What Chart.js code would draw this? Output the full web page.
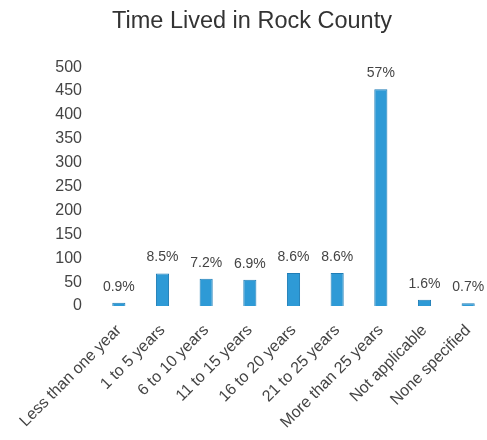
<!DOCTYPE html>
<html>
<head>
<meta charset="utf-8">
<script src="https://cdn.jsdelivr.net/npm/chart.js@4"></script>
<style>
  html, body { margin: 0; padding: 0; background: #fff; overflow: hidden; }
  #wrap { width: 490px; height: 440px; }
</style>
</head>
<body>
<div id="wrap"><canvas id="myChart"></canvas></div>
<script>
var categories = ["Less than one year", "1 to 5 years", "6 to 10 years", "11 to 15 years",
  "16 to 20 years", "21 to 25 years", "More than 25 years", "Not applicable", "None specified"];
var counts = [7, 68, 57, 55, 69, 69, 454, 13, 6];
var percents = ["0.9%", "8.5%", "7.2%", "6.9%", "8.6%", "8.6%", "57%", "1.6%", "0.7%"];

var font = '"Liberation Sans", Arial, sans-serif';

// percent text over each bar
var barLabels = {
  id: 'barLabels',
  afterDatasetsDraw: function(chart) {
    var c = chart.ctx;
    var meta = chart.getDatasetMeta(0);
    c.save();
    c.font = '14px ' + font;
    c.fillStyle = '#444';
    c.textAlign = 'center';
    c.textBaseline = 'bottom';
    for (var i = 0; i < meta.data.length; i++) {
      var bar = meta.data[i];
      c.fillText(percents[i], bar.x, bar.y - 9);
    }
    c.restore();
  }
};

var ctx = document.getElementById("myChart");
var myBarChart = new Chart(ctx, {
  type: 'bar',
  data: {
    labels: categories,
    datasets: [{
      data: counts,
      backgroundColor: '#2e9ad6',
      borderColor: '#1f7db6',
      borderWidth: 1,
      categoryPercentage: 1.0,
      barPercentage: 0.3
    }]
  },
  options: {
    responsive: true,
    maintainAspectRatio: false,
    animation: false,
    layout: { padding: { top: 0, left: 14, right: 0, bottom: 0 } },
    plugins: {
      legend: { display: false },
      tooltip: { enabled: false },
      title: {
        display: true,
        text: 'Time Lived in Rock County',
        color: '#333',
        font: { family: font, size: 23.5, weight: 'normal' },
        padding: { top: 7, bottom: 32 }
      }
    },
    scales: {
      x: {
        grid: { display: false },
        border: { display: false },
        afterFit: function(scale) {
          scale.height = 134;
          scale.paddingLeft = 0;
          scale.paddingRight = 0;
        },
        ticks: {
          color: '#444',
          maxRotation: 45,
          minRotation: 45,
          autoSkip: false,
          padding: 7,
          font: { family: font, size: 16 }
        }
      },
      y: {
        min: 0,
        max: 500,
        grid: { display: false },
        border: { display: false },
        afterFit: function(scale) {
          scale.width = 83;
        },
        ticks: {
          stepSize: 50,
          color: '#444',
          padding: 7,
          font: { family: font, size: 16 }
        }
      }
    }
  },
  plugins: [barLabels]
});
</script>
</body>
</html>
